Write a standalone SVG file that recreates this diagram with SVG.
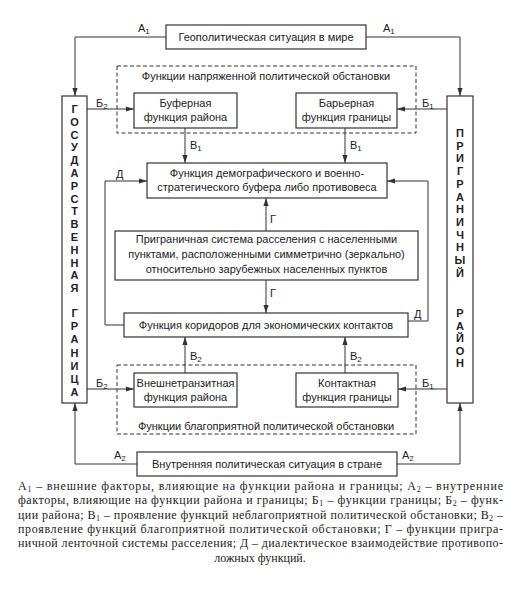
<svg xmlns="http://www.w3.org/2000/svg" width="518" height="600" viewBox="0 0 518 600">
<style>
.b{fill:#fff;stroke:#333;stroke-width:1.2}
.d{fill:none;stroke:#333;stroke-width:1;stroke-dasharray:4,2.5}
.t{font-family:"Liberation Sans",Arial,sans-serif;font-size:11px;fill:#222;text-anchor:middle}
.l{font-family:"Liberation Sans",Arial,sans-serif;font-size:11px;fill:#222}
.s{font-size:8px}
.v{font-family:"Liberation Sans",Arial,sans-serif;font-size:11px;font-weight:bold;fill:#222;text-anchor:middle}
.c{fill:none;stroke:#333;stroke-width:1}
.g{font-family:"Liberation Serif","Times New Roman",serif;font-size:12px;fill:#222}
</style>
<defs>
<marker id="ar" markerUnits="userSpaceOnUse" markerWidth="8" markerHeight="6" refX="8" refY="3" orient="auto">
<path d="M0,0.4 L8,3 L0,5.6 Z" fill="#333"/>
</marker>
</defs>
<rect width="518" height="600" fill="#fff"/>

<g id="groups">
<rect id="tense" class="d" x="117" y="66" width="299" height="67"/>
<text class="t" x="266" y="80">Функции напряженной политической обстановки</text>
<rect id="favorable" class="d" x="117" y="365" width="299" height="69"/>
<text class="t" x="266" y="430">Функции благоприятной политической обстановки</text>
</g>

<g id="connectors">
<path class="c" d="M166,37 H75 V96" marker-end="url(#ar)"/>
<path class="c" d="M366,37 H460 V96" marker-end="url(#ar)"/>
<path class="c" d="M137,464 H75 V403" marker-end="url(#ar)"/>
<path class="c" d="M397,464 H460 V403" marker-end="url(#ar)"/>
<path class="c" d="M87,109 H134" marker-end="url(#ar)"/>
<path class="c" d="M447,109 H397" marker-end="url(#ar)"/>
<path class="c" d="M87,389 H134" marker-end="url(#ar)"/>
<path class="c" d="M447,389 H398" marker-end="url(#ar)"/>
<path class="c" d="M185,128 V163" marker-end="url(#ar)"/>
<path class="c" d="M345,128 V163" marker-end="url(#ar)"/>
<path class="c" d="M185,373 V337" marker-end="url(#ar)"/>
<path class="c" d="M345,373 V337" marker-end="url(#ar)"/>
<path class="c" d="M266,231 V198" marker-end="url(#ar)"/>
<path class="c" d="M266,280 V313" marker-end="url(#ar)"/>
<path class="c" d="M124,325 H105 V181 H147" marker-end="url(#ar)"/>
<path class="c" d="M408,321 H428 V181 H387" marker-end="url(#ar)"/>
<text class="l" x="138" y="32">А<tspan class="s" dy="2">1</tspan></text>
<text class="l" x="383" y="32">А<tspan class="s" dy="2">1</tspan></text>
<text class="l" x="96" y="107">Б<tspan class="s" dy="2">2</tspan></text>
<text class="l" x="422" y="107">Б<tspan class="s" dy="2">1</tspan></text>
<text class="l" x="190" y="149">В<tspan class="s" dy="2">1</tspan></text>
<text class="l" x="350" y="149">В<tspan class="s" dy="2">1</tspan></text>
<text class="l" x="116" y="178">Д</text>
<text class="l" x="270" y="223">Г</text>
<text class="l" x="270" y="297">Г</text>
<text class="l" x="414" y="318">Д</text>
<text class="l" x="190" y="360">В<tspan class="s" dy="2">2</tspan></text>
<text class="l" x="350" y="360">В<tspan class="s" dy="2">2</tspan></text>
<text class="l" x="96" y="387">Б<tspan class="s" dy="2">2</tspan></text>
<text class="l" x="422" y="387">Б<tspan class="s" dy="2">1</tspan></text>
<text class="l" x="114" y="459">А<tspan class="s" dy="2">2</tspan></text>
<text class="l" x="402" y="459">А<tspan class="s" dy="2">2</tspan></text>
</g>

<g id="geo">
<rect class="b" x="166" y="25" width="200" height="24"/>
<text class="t" x="266" y="41">Геополитическая ситуация в мире</text>
</g>

<g id="border">
<rect class="b" x="62" y="96" width="25" height="307"/>
<text class="v" x="74.5" y="113">Г</text>
<text class="v" x="74.5" y="125.8">О</text>
<text class="v" x="74.5" y="138.6">С</text>
<text class="v" x="74.5" y="151.4">У</text>
<text class="v" x="74.5" y="164.2">Д</text>
<text class="v" x="74.5" y="177">А</text>
<text class="v" x="74.5" y="189.8">Р</text>
<text class="v" x="74.5" y="202.6">С</text>
<text class="v" x="74.5" y="215.4">Т</text>
<text class="v" x="74.5" y="228.2">В</text>
<text class="v" x="74.5" y="241">Е</text>
<text class="v" x="74.5" y="253.8">Н</text>
<text class="v" x="74.5" y="266.6">Н</text>
<text class="v" x="74.5" y="279.4">А</text>
<text class="v" x="74.5" y="292.2">Я</text>
<text class="v" x="74.5" y="317">Г</text>
<text class="v" x="74.5" y="330.2">Р</text>
<text class="v" x="74.5" y="343.4">А</text>
<text class="v" x="74.5" y="356.6">Н</text>
<text class="v" x="74.5" y="369.8">И</text>
<text class="v" x="74.5" y="383">Ц</text>
<text class="v" x="74.5" y="396.2">А</text>
</g>

<g id="district">
<rect class="b" x="447" y="96" width="26" height="307"/>
<text class="v" x="460" y="137">П</text>
<text class="v" x="460" y="149.7">Р</text>
<text class="v" x="460" y="162.4">И</text>
<text class="v" x="460" y="175.1">Г</text>
<text class="v" x="460" y="187.8">Р</text>
<text class="v" x="460" y="200.5">А</text>
<text class="v" x="460" y="213.2">Н</text>
<text class="v" x="460" y="225.9">И</text>
<text class="v" x="460" y="238.6">Ч</text>
<text class="v" x="460" y="251.3">Н</text>
<text class="v" x="460" y="264">Ы</text>
<text class="v" x="460" y="276.7">Й</text>
<text class="v" x="460" y="317">Р</text>
<text class="v" x="460" y="329.5">А</text>
<text class="v" x="460" y="342">Й</text>
<text class="v" x="460" y="354.5">О</text>
<text class="v" x="460" y="367">Н</text>
</g>

<g id="buffer">
<rect class="b" x="134" y="93" width="103" height="35"/>
<text class="t" x="185.5" y="107">Буферная</text>
<text class="t" x="185.5" y="121">функция района</text>
</g>

<g id="barrier">
<rect class="b" x="296" y="93" width="101" height="35"/>
<text class="t" x="346.5" y="107">Барьерная</text>
<text class="t" x="346.5" y="121">функция границы</text>
</g>

<g id="demographic">
<rect class="b" x="147" y="163" width="240" height="35"/>
<text class="t" x="267" y="177">Функция демографического и военно-</text>
<text class="t" x="267" y="191">стратегического буфера либо противовеса</text>
</g>

<g id="settlement">
<rect class="b" x="115" y="231" width="303" height="49"/>
<text class="t" x="266.5" y="243">Приграничная система расселения с населенными</text>
<text class="t" x="266.5" y="258">пунктами, расположенными симметрично (зеркально)</text>
<text class="t" x="266.5" y="273">относительно зарубежных населенных пунктов</text>
</g>

<g id="corridor">
<rect class="b" x="124" y="313" width="284" height="24"/>
<text class="t" x="266" y="329">Функция коридоров для экономических контактов</text>
</g>

<g id="transit">
<rect class="b" x="134" y="373" width="103" height="34"/>
<text class="t" x="185.5" y="387">Внешнетранзитная</text>
<text class="t" x="185.5" y="401">функция района</text>
</g>

<g id="contact">
<rect class="b" x="296" y="373" width="102" height="34"/>
<text class="t" x="347" y="387">Контактная</text>
<text class="t" x="347" y="401">функция границы</text>
</g>

<g id="internal">
<rect class="b" x="137" y="452" width="260" height="24"/>
<text class="t" x="267" y="468">Внутренняя политическая ситуация в стране</text>
</g>

<g id="legend">
<text class="g" x="18" y="490" textLength="485" lengthAdjust="spacing">А<tspan class="s" dy="2">1</tspan><tspan dy="-2"> – внешние факторы, влияющие на функции района и границы; А</tspan><tspan class="s" dy="2">2</tspan><tspan dy="-2"> – внутренние</tspan></text>
<text class="g" x="18" y="504.3" textLength="485" lengthAdjust="spacing">факторы, влияющие на функции района и границы; Б<tspan class="s" dy="2">1</tspan><tspan dy="-2"> – функции границы; Б</tspan><tspan class="s" dy="2">2</tspan><tspan dy="-2"> – функ-</tspan></text>
<text class="g" x="18" y="518.6" textLength="485" lengthAdjust="spacing">ции района; В<tspan class="s" dy="2">1</tspan><tspan dy="-2"> – проявление функций неблагоприятной политической обстановки; В</tspan><tspan class="s" dy="2">2</tspan><tspan dy="-2"> –</tspan></text>
<text class="g" x="18" y="532.9" textLength="485" lengthAdjust="spacing">проявление функций благоприятной политической обстановки; Г – функции пригра-</text>
<text class="g" x="18" y="547.2" textLength="485" lengthAdjust="spacing">ничной ленточной системы расселения; Д – диалектическое взаимодействие противопо-</text>
<text class="g" x="260" y="561.5" text-anchor="middle">ложных функций.</text>
</g>
</svg>
